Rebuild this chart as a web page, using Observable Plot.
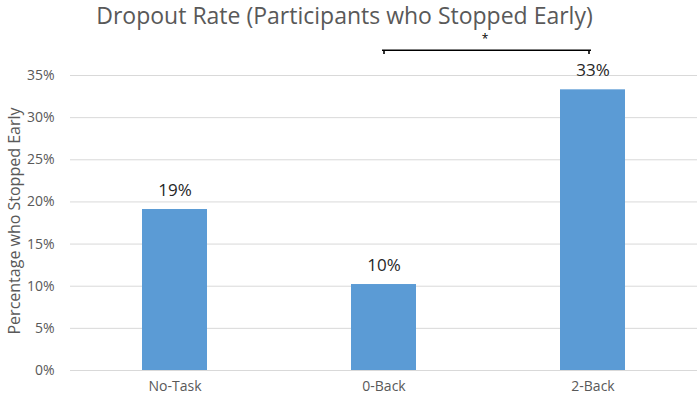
<!DOCTYPE html>
<html>
<head>
<meta charset="utf-8">
<script src="https://cdn.jsdelivr.net/npm/d3@7"></script>
<script src="https://cdn.jsdelivr.net/npm/@observablehq/plot@0.6"></script>
<style>
  html, body { margin: 0; padding: 0; background: #fff; }
  #title { font-family: "Open Sans", sans-serif; font-size: 23px; color: #595959;
           height: 30px; line-height: 30px; text-align: center; width: 689px; padding-right: 10px; white-space: nowrap; }
  #chart svg { display: block; }
</style>
</head>
<body>
<div id="title">Dropout Rate (Participants who Stopped Early)</div>
<div id="chart"></div>
<script>
const categories = ["No-Task", "0-Back", "2-Back"];
const values = [19.1, 10.2, 33.3];
const valueLabels = ["19%", "10%", "33%"];
const yTicks = [0, 5, 10, 15, 20, 25, 30, 35];
const yTitle = "Percentage who Stopped Early";
const comparisons = [{from: "0-Back", to: "2-Back", label: "*"}];

const data = categories.map((c, i) => ({category: c, value: values[i], label: valueLabels[i]}));
const bracketY = 38;
const tickLen = 0.45;

const font = "Open Sans, sans-serif";
const chart = Plot.plot({
  width: 699,
  height: 370,
  marginLeft: 70,
  marginRight: 2,
  marginTop: 45,
  marginBottom: 30,
  style: {fontFamily: font, background: "#fff", overflow: "visible"},
  x: {domain: categories, padding: 0, label: null},
  y: {domain: [0, 35], label: null},
  marks: [
    Plot.gridY(yTicks, {stroke: "#d9d9d9", strokeOpacity: 1, strokeWidth: 1}),
    Plot.axisY({ticks: yTicks, tickFormat: d => d + "%", tickSize: 0, tickPadding: 16,
                fontSize: 14, fill: "#595959", label: null}),
    Plot.text([yTitle], {frameAnchor: "left", textAnchor: "middle", dx: -56, dy: -2, rotate: -90, fontSize: 16, fill: "#595959"}),
    Plot.axisX({tickSize: 0, tickPadding: 11, fontSize: 14, fill: "#595959", label: null}),
    Plot.barY(data, {x: "category", y: "value", fill: "#5b9bd5", insetLeft: 72, insetRight: 72}),
    Plot.text(data, {x: "category", y: "value", text: "label", dy: -19, fontSize: 17, fill: "#262626"}),
    Plot.link(comparisons, {x1: "from", x2: "to", y1: bracketY, y2: bracketY, stroke: "#000", strokeWidth: 1.6, dx: -2}),
    Plot.link(comparisons, {x1: "from", x2: "from", y1: bracketY, y2: bracketY - tickLen, stroke: "#000", strokeWidth: 1.6}),
    Plot.link(comparisons, {x1: "to", x2: "to", y1: bracketY, y2: bracketY - tickLen, stroke: "#000", strokeWidth: 1.6, dx: -4}),
    Plot.text(comparisons, {x: d => d.from, y: bracketY, text: "label", dx: 101, dy: -11, fontSize: 12, fill: "#000"})
  ]
});
document.getElementById("chart").appendChild(chart);
</script>
</body>
</html>
